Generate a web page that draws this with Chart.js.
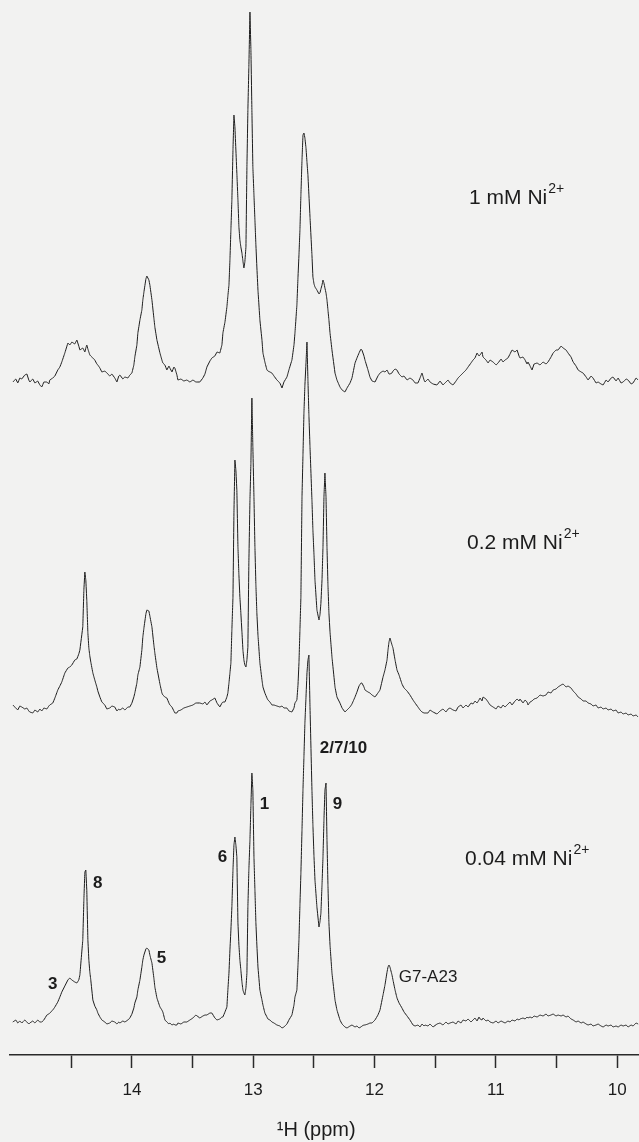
<!DOCTYPE html>
<html>
<head>
<meta charset="utf-8">
<script src="https://cdn.jsdelivr.net/npm/chart.js@4.4.1/dist/chart.umd.min.js"></script>
<style>
  html, body { margin: 0; padding: 0; background: #f2f2f1; }
  #wrap { width: 639px; height: 1142px; }
</style>
</head>
<body>
<div id="wrap"><canvas id="nmrChart" width="639" height="1142"></canvas></div>
<script>
// chemical shift (ppm) shared by the three spectra
const shiftPpm = [
  14.982,14.957,14.941,14.924,14.908,14.883,14.866,14.850,14.842,14.817,
  14.800,14.776,14.759,14.743,14.726,14.701,14.685,14.677,14.652,14.635,
  14.611,14.594,14.578,14.553,14.528,14.512,14.495,14.471,14.454,14.438,
  14.429,14.405,14.396,14.388,14.380,14.372,14.363,14.355,14.347,14.339,
  14.322,14.306,14.289,14.281,14.264,14.248,14.223,14.207,14.182,14.165,
  14.141,14.124,14.108,14.099,14.075,14.058,14.033,14.017,14.000,13.984,
  13.976,13.959,13.951,13.934,13.918,13.910,13.901,13.885,13.877,13.860,
  13.852,13.835,13.819,13.811,13.794,13.769,13.753,13.745,13.728,13.712,
  13.695,13.687,13.670,13.654,13.646,13.629,13.621,13.596,13.572,13.547,
  13.522,13.497,13.473,13.440,13.415,13.398,13.382,13.357,13.341,13.316,
  13.299,13.275,13.258,13.250,13.233,13.217,13.209,13.200,13.192,13.184,
  13.176,13.167,13.159,13.151,13.143,13.135,13.126,13.118,13.110,13.102,
  13.093,13.085,13.077,13.069,13.060,13.052,13.044,13.036,13.027,13.019,
  13.011,13.003,12.994,12.986,12.978,12.970,12.961,12.945,12.928,12.920,
  12.904,12.887,12.879,12.862,12.846,12.829,12.805,12.780,12.763,12.747,
  12.722,12.706,12.681,12.664,12.656,12.640,12.631,12.623,12.615,12.607,
  12.598,12.590,12.582,12.574,12.565,12.557,12.549,12.541,12.532,12.516,
  12.508,12.499,12.491,12.475,12.458,12.450,12.442,12.433,12.425,12.417,
  12.409,12.400,12.392,12.384,12.376,12.367,12.351,12.326,12.310,12.285,
  12.268,12.244,12.227,12.202,12.186,12.161,12.145,12.128,12.112,12.104,
  12.087,12.079,12.054,12.038,12.021,11.996,11.972,11.955,11.930,11.914,
  11.897,11.889,11.881,11.873,11.856,11.848,11.831,11.815,11.798,11.774,
  11.757,11.732,11.708,11.683,11.666,11.642,11.625,11.609,11.592,11.584,
  11.559,11.543,11.518,11.485,11.460,11.436,11.411,11.394,11.378,11.353,
  11.328,11.312,11.287,11.271,11.246,11.229,11.205,11.188,11.172,11.155,
  11.139,11.130,11.114,11.106,11.081,11.064,11.048,11.023,10.998,10.982,
  10.957,10.941,10.924,10.900,10.883,10.867,10.842,10.825,10.809,10.801,
  10.776,10.759,10.743,10.735,10.718,10.702,10.685,10.660,10.636,10.611,
  10.586,10.570,10.545,10.528,10.504,10.487,10.462,10.446,10.421,10.405,
  10.380,10.363,10.339,10.322,10.297,10.281,10.256,10.240,10.215,10.199,
  10.174,10.157,10.133,10.116,10.091,10.075,10.050,10.034,10.009,9.992,
  9.968,9.951,9.926,9.910,9.885,9.869,9.844,9.827
];

// intensities (arbitrary units, 0 = baseline)
const intensity1mM = [
  -2,1,-3,2,1,5,6,0,-2,1,
  -3,-1,-5,-7,-2,-2,-4,0,2,4,
  10,13,18,27,37,35,38,36,40,34,
  30,32,30,28,32,35,31,28,25,24,
  22,20,16,15,12,8,9,7,4,6,
  2,-2,4,5,1,3,2,5,7,15,
  23,35,47,60,70,80,88,101,104,100,
  95,80,62,53,40,27,20,17,15,10,
  14,12,8,13,12,5,0,1,-1,0,
  -2,0,-2,-2,2,6,13,19,22,24,
  28,27,35,47,58,73,84,95,120,150,
  180,230,265,253,230,207,180,153,140,133,
  127,119,112,118,133,213,270,313,368,330,
  270,213,185,160,135,113,90,60,40,27,
  18,10,9,8,7,4,0,-3,-8,-2,
  3,10,20,35,47,75,103,125,150,185,
  220,245,247,242,232,218,205,185,163,125,
  103,96,93,90,86,87,91,95,100,97,
  92,87,80,70,60,47,30,7,0,-7,
  -10,-12,-8,-3,2,17,22,27,31,30,
  24,20,10,3,-1,-2,4,7,9,8,
  10,8,6,6,7,9,11,10,6,3,
  4,0,2,0,-3,-3,2,7,0,-2,
  1,-2,-4,-5,-1,-5,-2,0,-3,-5,
  -1,2,5,7,10,13,17,20,22,27,
  24,25,28,23,20,17,20,18,15,17,
  21,18,20,22,26,30,28,30,24,22,
  23,20,16,18,14,10,16,17,15,18,
  16,18,23,27,30,30,34,32,30,27,
  23,18,14,10,8,7,3,0,4,2,
  -3,-2,-4,-5,0,-2,2,3,-1,2,
  -3,-2,1,0,-4,-3,2,0
];

const intensity02mM = [
  3,0,-2,2,1,-1,0,-3,-4,-5,
  -2,-4,-1,-3,0,-1,2,3,5,10,
  18,22,26,35,40,41,43,48,49,54,
  58,81,118,136,128,108,75,60,52,46,
  35,28,21,17,11,6,3,-1,0,2,
  1,-3,-1,-2,0,-2,1,1,5,11,
  15,25,33,41,58,71,80,94,98,97,
  92,81,63,55,40,24,15,13,11,10,
  5,3,1,-3,-5,-5,-3,-2,0,1,
  2,3,5,5,4,6,3,7,8,10,
  5,1,5,6,6,11,15,25,35,45,
  78,111,195,248,238,218,161,133,111,95,
  76,58,48,43,41,48,61,145,208,245,
  310,261,211,161,123,95,73,45,28,21,
  15,10,8,6,3,3,2,1,2,0,
  0,-3,-4,0,5,8,23,45,78,111,
  211,253,295,323,345,366,328,293,261,208,
  178,153,128,98,88,93,105,128,161,211,
  235,211,161,123,95,76,51,21,11,5,
  0,-4,-2,1,4,11,16,22,25,25,
  21,18,16,15,13,11,15,18,31,38,
  48,58,66,70,63,60,48,38,33,24,
  20,17,13,8,5,1,-2,-4,-5,-5,
  -5,-2,-4,-6,-3,-1,-4,-1,0,-2,
  -3,1,3,0,3,1,5,4,7,5,
  8,10,7,11,9,6,3,1,-1,2,
  0,3,1,4,6,3,7,9,7,9,
  5,8,6,3,6,7,9,10,13,12,
  13,16,15,18,19,21,23,24,21,22,
  20,17,14,11,9,7,7,5,4,2,
  3,0,1,-1,0,-2,-1,-3,-2,-5,
  -4,-6,-5,-7,-6,-8,-7,-9
];

const intensity004mM = [
  0,2,-1,1,-1,2,0,-2,-1,1,
  -1,2,0,0,2,7,8,9,12,15,
  20,25,30,36,42,44,42,40,39,42,
  47,82,122,150,152,132,82,62,50,42,
  22,16,12,9,5,2,0,-2,-1,1,
  0,-2,0,-1,1,0,2,4,8,14,
  19,25,32,42,55,62,67,73,74,72,
  67,59,44,35,24,15,12,10,2,0,
  -2,-1,-3,-2,-3,-3,-1,-2,0,0,
  2,4,7,4,6,7,7,9,9,4,
  2,3,5,5,10,15,32,49,72,92,
  115,152,177,185,177,165,99,77,62,52,
  40,32,29,27,34,49,115,152,182,217,
  249,232,165,132,99,77,55,32,22,17,
  9,5,3,2,0,-1,-3,-4,-6,-5,
  -2,2,7,17,25,32,57,82,117,149,
  192,232,265,299,325,349,362,367,315,232,
  197,165,142,115,95,100,109,137,165,202,
  232,239,182,137,99,77,49,22,12,2,
  -2,-5,-6,-4,-3,-5,-4,-6,-5,-4,
  -3,-3,-2,-1,-1,2,7,12,27,37,
  50,55,57,55,47,42,32,24,19,14,
  10,6,2,-3,-4,-3,-5,-2,-4,-3,
  -4,-2,-5,-2,-1,-3,0,-2,-1,0,
  -2,1,-1,2,1,3,0,2,4,1,
  5,3,2,4,1,2,0,-1,1,-1,
  1,0,-1,1,0,2,1,3,2,3,
  4,3,5,4,5,4,6,5,7,6,
  8,6,7,8,6,7,6,7,5,6,
  3,2,0,1,-1,0,-2,-3,-2,-4,
  -3,-2,-4,-5,-3,-4,-3,-5,-4,-5,
  -3,-4,-3,-5,-3,-4,-1,-2
];

const concNames = ['1 mM Ni', '0.2 mM Ni', '0.04 mM Ni'];
const peakNames = ['3', '8', '5', '6', '1', '2/7/10', '9', 'G7-A23'];

// vertical stacking of the three spectra (y units)
const traceOffsets = [675, 347, 33];

// where the texts sit, in ppm / y units
const concLabelPos = [[11.221, 857], [11.238, 512], [11.254, 196]];
const peakLabelPos = [
  [14.652, 70.5], [14.281, 172], [13.757, 96.5], [13.254, 197.5],
  [12.908, 251], [12.256, 306.5], [12.306, 251], [11.559, 78]
];

const FONT = '"Liberation Sans", Arial, Helvetica, sans-serif';
const INK = '#1c1c1c';

document.addEventListener('DOMContentLoaded', function () {
    const ctx = document.getElementById('nmrChart');
    if (!ctx) return;

    Chart.defaults.font.family = FONT;

    const labelPlugin = {
        id: 'spectrumLabels',
        afterDatasetsDraw(chart) {
            const c = chart.ctx;
            const xs = chart.scales.x, ys = chart.scales.y;
            c.save();
            c.fillStyle = INK;
            c.textBaseline = 'middle';

            // concentration labels with superscript charge
            concNames.forEach(function (name, i) {
                const px = xs.getPixelForValue(concLabelPos[i][0]);
                const py = ys.getPixelForValue(concLabelPos[i][1]);
                c.font = '21px ' + FONT;
                c.textAlign = 'left';
                c.fillText(name, px, py);
                const w = c.measureText(name).width;
                c.font = '14px ' + FONT;
                c.fillText('2+', px + w + 1, py - 9);
            });

            // peak assignments
            peakNames.forEach(function (name, i) {
                const bold = name !== 'G7-A23';
                c.font = (bold ? 'bold 17px ' : '17px ') + FONT;
                c.textAlign = 'center';
                c.fillText(name, xs.getPixelForValue(peakLabelPos[i][0]), ys.getPixelForValue(peakLabelPos[i][1]));
            });
            c.restore();
        }
    };

    const series = [intensity1mM, intensity02mM, intensity004mM];
    const datasets = series.map(function (vals, k) {
        const n = Math.min(vals.length, shiftPpm.length);
        const pts = [];
        for (let i = 0; i < n; i++) {
            pts.push({ x: shiftPpm[i], y: vals[i] + traceOffsets[k] });
        }
        return {
            label: concNames[k] + '2+',
            data: pts,
            borderColor: INK,
            borderWidth: 1,
            pointRadius: 0,
            // tiny tension keeps chart.js off its fast path, which merges points
            // sharing a pixel column into vertical stubs
            tension: 0.0001,
            fill: false
        };
    });

    new Chart(ctx, {
        type: 'line',
        data: { datasets: datasets },
        options: {
            responsive: false,
            animation: false,
            layout: { padding: { left: 10, right: 0, top: 0, bottom: 0 } },
            plugins: {
                legend: { display: false },
                tooltip: { enabled: false }
            },
            scales: {
                x: {
                    type: 'linear',
                    reverse: true,
                    min: 9.82,
                    max: 15.005,
                    afterBuildTicks: function (scale) {
                        scale.ticks = scale.ticks.filter(function (t) { return t.value <= 14.5; });
                    },
                    afterFit: function (scale) { scale.height = 87; },
                    border: { display: true, color: '#2a2a2a', width: 1.5 },
                    grid: {
                        drawOnChartArea: false,
                        drawTicks: true,
                        tickLength: 13,
                        tickColor: '#2a2a2a',
                        tickWidth: 1.5
                    },
                    ticks: {
                        stepSize: 0.5,
                        autoSkip: false,
                        includeBounds: false,
                        maxRotation: 0,
                        padding: 12,
                        color: INK,
                        font: { size: 17 },
                        callback: function (v) { return Number.isInteger(v) ? String(v) : ''; }
                    },
                    title: {
                        display: true,
                        text: '\u00b9H (ppm)   ',
                        color: INK,
                        font: { size: 20 },
                        padding: { top: 0, bottom: 0 }
                    }
                },
                y: {
                    display: false,
                    min: 0,
                    max: 1055
                }
            }
        },
        plugins: [labelPlugin]
    });
});
</script>
</body>
</html>
